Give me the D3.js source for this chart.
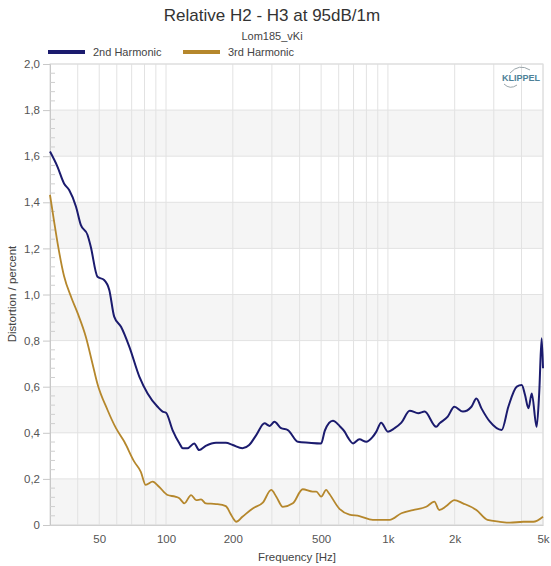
<!DOCTYPE html>
<html>
<head>
<meta charset="utf-8">
<script src="https://cdn.jsdelivr.net/npm/d3@7/dist/d3.min.js"></script>
<style>
  html, body { margin: 0; padding: 0; background: #ffffff; }
  svg { display: block; font-family: "Liberation Sans", Arial, sans-serif; }
</style>
</head>
<body>
<svg id="chart" width="551" height="566"></svg>
<script>
// Measured relative harmonic distortion (percent) vs frequency (Hz)
const h2Freq = [30, 32.4, 34.7, 36.6, 39.3, 41.3, 44.3, 45.8, 49.1, 52.6, 55.5, 58.4, 62.7, 68.3, 75.8, 82.6, 91.6, 96.5, 100,
  107, 115, 119, 125, 134, 141, 151, 168, 186, 200, 221, 237, 255, 278, 293, 308, 330, 354, 393, 440, 500, 520, 565, 605, 638,
  660, 697, 744, 799, 850, 887, 932, 1000, 1072, 1150, 1254, 1370, 1464, 1651, 1708, 1860, 1993, 2178, 2379, 2505, 2640, 2882,
  3256, 3490, 3810, 4010, 4150, 4300, 4450, 4680, 4810, 4930, 5000];
const h2Values = [1.62, 1.555, 1.482, 1.453, 1.381, 1.302, 1.258, 1.207, 1.077, 1.063, 1.02, 0.904, 0.86, 0.774, 0.644, 0.571, 0.513, 0.492, 0.487,
  0.412, 0.354, 0.333, 0.333, 0.354, 0.325, 0.343, 0.357, 0.357, 0.347, 0.333, 0.347, 0.39, 0.441, 0.43, 0.448, 0.42, 0.412, 0.361, 0.357, 0.354, 0.41, 0.452, 0.43, 0.405,
  0.38, 0.354, 0.372, 0.361, 0.38, 0.405, 0.444, 0.405, 0.42, 0.444, 0.496, 0.485, 0.492, 0.426, 0.441, 0.47, 0.513, 0.492, 0.513, 0.549, 0.506, 0.448,
  0.412, 0.513, 0.6, 0.607, 0.564, 0.506, 0.571, 0.426, 0.578, 0.81, 0.68];

const h3Freq = [30, 31.4, 32.5, 34.7, 37.5, 40, 43.5, 46.6, 49, 54.5, 59.5, 64.9, 71.9, 77, 81, 87, 93, 101.7, 110, 114.8, 121, 129.7,
  136.6, 143.8, 151, 168, 186, 195, 203, 207, 221, 246, 273, 298, 314, 336, 373, 413, 458, 476, 500, 527, 540, 605, 671, 744,
  855, 1018, 1150, 1296, 1488, 1620, 1703, 1834, 1993, 2178, 2505, 2810, 3200, 3550, 4080, 4520, 5000];
const h3Values = [1.432, 1.309, 1.22, 1.08, 0.985, 0.918, 0.817, 0.701, 0.615, 0.499, 0.42, 0.361, 0.275, 0.231, 0.174, 0.188, 0.166, 0.13, 0.123, 0.116, 0.094, 0.13,
  0.108, 0.111, 0.094, 0.091, 0.082, 0.05, 0.022, 0.014, 0.036, 0.072, 0.097, 0.152, 0.123, 0.079, 0.094, 0.155, 0.145, 0.145, 0.123, 0.152, 0.14, 0.07, 0.045, 0.039,
  0.022, 0.022, 0.051, 0.065, 0.079, 0.101, 0.065, 0.082, 0.108, 0.094, 0.065, 0.022, 0.014, 0.01, 0.014, 0.014, 0.036];

const seriesNames = ["2nd Harmonic", "3rd Harmonic"];
const seriesColors = ["#1b1b6e", "#b5872c"];

const xMajorTicks = [50, 100, 200, 500, 1000, 2000, 5000];
const xTickLabels = ["50", "100", "200", "500", "1k", "2k", "5k"];
const yMajorTicks = [0, 0.2, 0.4, 0.6, 0.8, 1.0, 1.2, 1.4, 1.6, 1.8, 2.0];

const svg = d3.select("#chart");
const margin = { left: 50, right: 8, top: 64, bottom: 41 };
const W = 551, H = 566;
const x = d3.scaleLog().domain([30, 5000]).range([margin.left, W - margin.right]);
const y = d3.scaleLinear().domain([0, 2]).range([H - margin.bottom, margin.top]);

const plot = svg.append("g");

// alternating horizontal bands
for (let i = 0; i < yMajorTicks.length - 1; i++) {
  if (i % 2 === 0) {
    plot.append("rect")
      .attr("x", x.range()[0]).attr("width", x.range()[1] - x.range()[0])
      .attr("y", y(yMajorTicks[i + 1])).attr("height", y(yMajorTicks[i]) - y(yMajorTicks[i + 1]))
      .attr("fill", "#f5f5f5");
  }
}

// vertical grid (every 1-2-3...-9 decade step)
const xGrid = [];
[10, 100, 1000].forEach(d => { for (let k = 1; k <= 9; k++) { const v = d * k; if (v > 30 && v <= 5000) xGrid.push(v); } });
plot.selectAll("line.vg").data(xGrid).join("line")
  .attr("class", "vg")
  .attr("x1", d => x(d)).attr("x2", d => x(d))
  .attr("y1", y(0)).attr("y2", y(2))
  .attr("stroke", "#e2e2e2").attr("stroke-width", 1);

// horizontal grid
plot.selectAll("line.hg").data(yMajorTicks).join("line")
  .attr("class", "hg")
  .attr("x1", x.range()[0]).attr("x2", x.range()[1])
  .attr("y1", d => y(d)).attr("y2", d => y(d))
  .attr("stroke", "#e2e2e2").attr("stroke-width", 1);

// plot frame
plot.append("rect")
  .attr("x", x.range()[0]).attr("y", y(2))
  .attr("width", x.range()[1] - x.range()[0]).attr("height", y(0) - y(2))
  .attr("fill", "none").attr("stroke", "#dcdcdc");

// y axis with comma decimals
const yAxis = d3.axisLeft(y).tickValues(yMajorTicks).tickSize(7).tickPadding(3)
  .tickFormat(d => d === 0 ? "0" : d.toFixed(1).replace(".", ","));
const gy = svg.append("g").attr("transform", `translate(${margin.left},0)`).call(yAxis);
gy.select(".domain").attr("stroke", "#c8c8c8");
gy.selectAll(".tick line").attr("stroke", "#c8c8c8");
gy.selectAll("text").attr("fill", "#555").attr("font-size", 11.5);

// minor y ticks inside the axis
const yMinor = d3.range(0, 2.0001, 0.04).filter(v => Math.abs(v / 0.2 - Math.round(v / 0.2)) > 1e-6);
svg.append("g").selectAll("line").data(yMinor).join("line")
  .attr("x1", margin.left).attr("x2", margin.left + 5)
  .attr("y1", d => y(d)).attr("y2", d => y(d))
  .attr("stroke", "#cfcfcf");

// x axis
const xAxis = d3.axisBottom(x).tickValues(xMajorTicks).tickSize(0).tickPadding(10)
  .tickFormat((d, i) => xTickLabels[i]);
const gx = svg.append("g").attr("transform", `translate(0,${y(0)})`).call(xAxis);
gx.select(".domain").attr("stroke", "#d0d0d0");
gx.selectAll("text").attr("fill", "#555").attr("font-size", 11.5);

// curves
const line = d3.line().x(d => x(d[0])).y(d => y(d[1])).curve(d3.curveMonotoneX);
const h2 = h2Freq.map((f, i) => [f, h2Values[i]]);
const h3 = h3Freq.map((f, i) => [f, h3Values[i]]);
svg.append("path").datum(h3).attr("d", line)
  .attr("fill", "none").attr("stroke", seriesColors[1]).attr("stroke-width", 1.8).attr("stroke-linejoin", "round");
svg.append("path").datum(h2).attr("d", line)
  .attr("fill", "none").attr("stroke", seriesColors[0]).attr("stroke-width", 2).attr("stroke-linejoin", "round");

// titles
svg.append("text").attr("x", 272).attr("y", 21).attr("text-anchor", "middle")
  .attr("font-size", 17).attr("fill", "#333").text("Relative H2 - H3 at 95dB/1m");
svg.append("text").attr("x", 272).attr("y", 40).attr("text-anchor", "middle")
  .attr("font-size", 11).attr("fill", "#444").text("Lom185_vKi");
svg.append("text").attr("x", 297).attr("y", 561).attr("text-anchor", "middle")
  .attr("font-size", 11.5).attr("fill", "#444").text("Frequency [Hz]");
svg.append("text").attr("transform", "translate(16,294) rotate(-90)").attr("text-anchor", "middle")
  .attr("font-size", 11.5).attr("fill", "#444").text("Distortion / percent");

// legend
const legendX = [48, 183];
seriesNames.forEach((name, i) => {
  svg.append("rect").attr("x", legendX[i]).attr("y", 50).attr("width", 37).attr("height", 4)
    .attr("fill", seriesColors[i]);
  svg.append("text").attr("x", legendX[i] + 45).attr("y", 56)
    .attr("font-size", 11).attr("fill", "#444").text(name);
});

// logo
const logo = svg.append("g");
logo.append("path").attr("d", "M510,73 Q519,63 530,70").attr("fill", "none").attr("stroke", "#9aa5aa").attr("stroke-width", 1);
logo.append("text").attr("x", 521).attr("y", 81).attr("text-anchor", "middle")
  .attr("font-size", 9).attr("font-weight", "bold").attr("fill", "#4f8198").text("KLIPPEL");
logo.append("path").attr("d", "M504,84 Q510,90 517,85").attr("fill", "none").attr("stroke", "#9aa5aa").attr("stroke-width", 1);
</script>
</body>
</html>
